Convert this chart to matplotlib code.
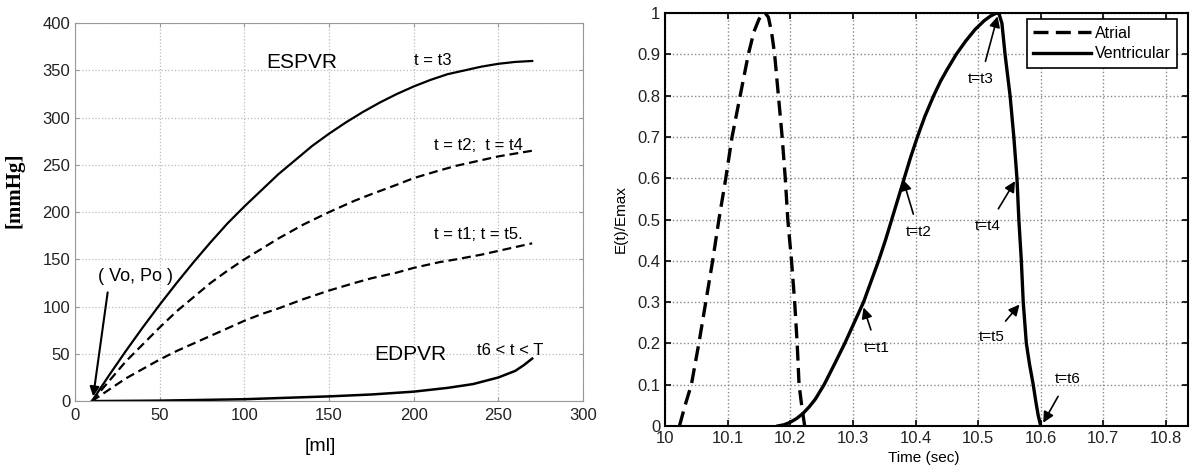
import numpy as np
import matplotlib
matplotlib.use("Agg")
import matplotlib.pyplot as plt

plt.rcParams['font.family'] = ['Liberation Sans', 'DejaVu Sans']

# left panel: pressure-volume relations
vol_es = [10, 20, 30, 40, 50, 60, 70, 80, 90, 100, 110, 120, 130, 140, 150, 160,
          170, 180, 190, 200, 210, 220, 230, 240, 250, 260, 270]
p_es = [0, 27, 53, 78, 102, 125, 147, 168, 188, 206, 223, 240, 255, 270, 283, 295,
        306, 316, 325, 333, 340, 346, 350, 354, 357, 359, 360]
vol_mid = [10, 20, 30, 40, 50, 60, 70, 80, 90, 100, 110, 120, 135, 150, 165, 175, 190,
           200, 215, 225, 240, 250, 260, 270]
p_t2 = [0, 21, 42, 60, 78, 95, 110, 125, 138, 150, 161, 172, 187, 200, 212, 219, 229,
        236, 244, 249, 255, 259, 262, 265]
p_t1 = [0, 12, 24, 34, 44, 53, 61, 69, 77, 85, 92, 98, 108, 117, 125, 130, 136,
        141, 147, 150, 155, 159, 163, 167]
vol_ed = [10, 50, 100, 150, 175, 200, 220, 235, 250, 260, 265, 270]
p_ed = [0, 0.5, 2, 5, 7, 10, 14, 18, 25, 32, 38, 45]

# right panel: normalised elastance
t_atr = [10.023, 10.032, 10.042, 10.054, 10.065, 10.076, 10.086, 10.097, 10.107, 10.120,
         10.133, 10.142, 10.150, 10.155, 10.160, 10.165, 10.170, 10.175, 10.181, 10.187,
         10.192, 10.196, 10.202, 10.207, 10.211, 10.214, 10.219, 10.223]
e_atr = [0, 0.05, 0.1, 0.2, 0.3, 0.4, 0.5, 0.6, 0.7, 0.8, 0.9, 0.955, 0.985, 0.997, 1.0,
         0.99, 0.955, 0.9, 0.8, 0.7, 0.6, 0.5, 0.4, 0.3, 0.2, 0.1, 0.04, 0]
t_ven = [10.18, 10.19, 10.20, 10.21, 10.22, 10.23, 10.24, 10.254, 10.27, 10.287, 10.302,
         10.317, 10.329, 10.341, 10.352, 10.362, 10.372, 10.382, 10.392, 10.403, 10.415,
         10.429, 10.44, 10.45, 10.465, 10.48, 10.495, 10.51, 10.52, 10.528, 10.533,
         10.538, 10.543, 10.547, 10.551, 10.557, 10.562, 10.565, 10.569, 10.572, 10.577,
         10.582, 10.588, 10.592, 10.596, 10.600]
e_ven = [0, 0.003, 0.009, 0.018, 0.03, 0.046, 0.065, 0.1, 0.148, 0.2, 0.25, 0.3, 0.35,
         0.4, 0.45, 0.5, 0.55, 0.6, 0.65, 0.7, 0.75, 0.8, 0.835, 0.862, 0.9, 0.932, 0.96,
         0.982, 0.993, 0.999, 1.0, 0.975, 0.9, 0.85, 0.8, 0.7, 0.6, 0.5, 0.4, 0.3, 0.2,
         0.15, 0.1, 0.06, 0.025, 0]

xt_right = [10, 10.1, 10.2, 10.3, 10.4, 10.5, 10.6, 10.7, 10.8]
xt_right_lbl = ['10', '10.1', '10.2', '10.3', '10.4', '10.5', '10.6', '10.7', '10.8']
yt_right = [0, 0.1, 0.2, 0.3, 0.4, 0.5, 0.6, 0.7, 0.8, 0.9, 1]
yt_right_lbl = ['0', '0.1', '0.2', '0.3', '0.4', '0.5', '0.6', '0.7', '0.8', '0.9', '1']

# annotation: label, arrow tip, text position
marks = [('t=t1', (10.317, 0.287), (10.338, 0.19)),
         ('t=t2', (10.380, 0.597), (10.405, 0.47)),
         ('t=t3', (10.531, 0.992), (10.504, 0.84)),
         ('t=t4', (10.559, 0.593), (10.516, 0.485)),
         ('t=t5', (10.566, 0.294), (10.522, 0.215)),
         ('t=t6', (10.604, 0.008), (10.643, 0.113))]

fig = plt.figure(figsize=(11.91, 4.73), dpi=100)

ax1 = fig.add_axes([0.063, 0.152, 0.4265, 0.799])
ax1.plot(vol_es, p_es, color='k', lw=1.6)
ax1.plot(vol_mid, p_t2, color='k', lw=1.6, ls=(0, (4, 2.2)))
ax1.plot(vol_mid, p_t1, color='k', lw=1.6, ls=(0, (4, 2.2)))
ax1.plot(vol_ed, p_ed, color='k', lw=1.8)
ax1.set_xlim(0, 300)
ax1.set_ylim(0, 400)
ax1.set_xticks(range(0, 301, 50))
ax1.set_yticks(range(0, 401, 50))
ax1.grid(True, ls=':', color='#bbbbbb', lw=0.9)
ax1.tick_params(direction='in', top=True, right=True, labelsize=12, color='#999999',
                labelcolor='#222222', length=3)
ax1.tick_params(axis='x', pad=5)
for s in ax1.spines.values():
    s.set_color('#999999')
ax1.set_xlabel('[ml]', fontsize=14)
ax1.xaxis.set_label_coords(0.482, -0.098)
ax1.set_ylabel('[mmHg]', fontsize=15, fontweight='bold', family='Liberation Serif')
ax1.yaxis.set_label_coords(-0.1, 0.558)

ax1.text(134, 358, 'ESPVR', fontsize=15, ha='center', va='center')
ax1.text(211, 360, 't = t3', fontsize=12, ha='center', va='center')
ax1.text(238, 271, 't = t2;  t = t4', fontsize=12, ha='center', va='center')
ax1.text(238, 176, 't = t1; t = t5.', fontsize=12, ha='center', va='center')
ax1.text(35.5, 132, '( Vo, Po )', fontsize=13, ha='center', va='center')
ax1.text(198, 49, 'EDPVR', fontsize=15, ha='center', va='center')
ax1.text(257, 54, 't6 < t < T', fontsize=12, ha='center', va='center')
ax1.annotate('', xy=(10.5, 2), xytext=(19.5, 118),
             arrowprops=dict(arrowstyle='-|>', color='k', lw=1.5, mutation_scale=14))

ax2 = fig.add_axes([0.5584, 0.0994, 0.439, 0.873])
ax2.plot(t_atr, e_atr, color='k', lw=2.4, ls=(0, (4.5, 2.2)), label='Atrial')
ax2.plot(t_ven, e_ven, color='k', lw=2.4, label='Ventricular')
ax2.set_xlim(10, 10.835)
ax2.set_ylim(0, 1)
ax2.set_xticks(xt_right)
ax2.set_xticklabels(xt_right_lbl)
ax2.set_yticks(yt_right)
ax2.set_yticklabels(yt_right_lbl)
ax2.grid(True, ls=':', color='#888888', lw=1.0)
ax2.tick_params(direction='in', top=True, right=True, labelsize=12, length=4,
                width=1.2, labelcolor='#222222')
for s in ax2.spines.values():
    s.set_linewidth(1.5)
ax2.set_xlabel('Time (sec)', fontsize=11)
ax2.xaxis.set_label_coords(0.495, -0.06)
ax2.set_ylabel('E(t)/Emax', fontsize=11)
ax2.yaxis.set_label_coords(-0.071, 0.5)

for lbl, tip, pos in marks:
    ax2.annotate(lbl, xy=tip, xytext=pos, fontsize=11, ha='center', va='center',
                 arrowprops=dict(arrowstyle='-|>', color='k', lw=1.2, mutation_scale=16,
                                 shrinkA=6, shrinkB=0))

leg = ax2.legend(loc='upper right', bbox_to_anchor=(0.98, 0.985), borderaxespad=0,
                 fancybox=False, edgecolor='k', framealpha=1, fontsize=11.5,
                 handlelength=3.6, handletextpad=0.3, borderpad=0.4, labelspacing=0.35)
leg.get_frame().set_linewidth(1.2)

fig.savefig('out.png', dpi=100)
